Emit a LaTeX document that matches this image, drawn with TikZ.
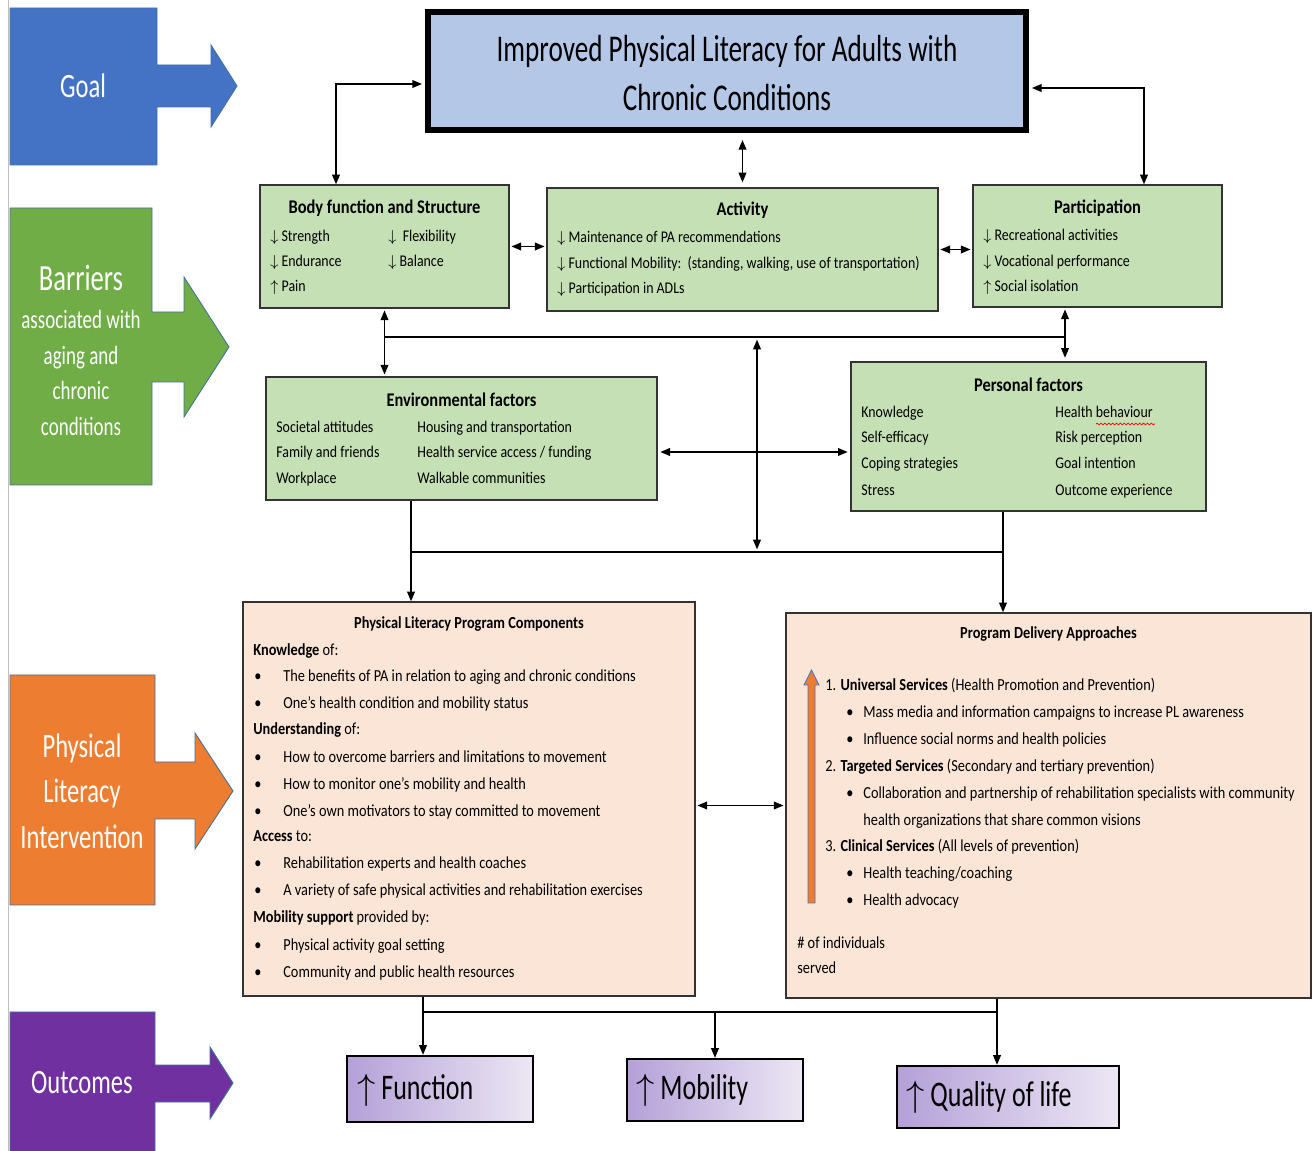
\documentclass[tikz,border=0pt]{standalone}
\usepackage{fontspec}
\setmainfont{Carlito}[FakeStretch=0.85]
\newfontfamily\condfont{Carlito}[FakeStretch=0.72]
\usetikzlibrary{fit,arrows.meta,positioning,decorations.pathmorphing}

\definecolor{goalblue}{HTML}{4472C4}
\definecolor{barrgreen}{HTML}{70AD47}
\definecolor{interorange}{HTML}{ED7D31}
\definecolor{outpurple}{HTML}{7030A0}
\definecolor{sideedge}{HTML}{41719C}
\definecolor{titlefill}{HTML}{B4C7E7}
\definecolor{icffill}{HTML}{C5E0B4}
\definecolor{progfill}{HTML}{FBE5D6}
\definecolor{gradleft}{HTML}{B4A0D8}
\definecolor{gradright}{HTML}{ECE7F4}

\newcommand{\icfhead}{\fontsize{11}{13}\selectfont\bfseries}
\newcommand{\icftext}{\fontsize{9.3}{11}\selectfont}
\newcommand{\proghead}{\fontsize{9.6}{11.5}\selectfont\bfseries}
\newcommand{\progtext}{\fontsize{9.6}{11.5}\selectfont}
\newcommand{\sidelabel}{\condfont\fontsize{19.4}{26}\selectfont}
\newcommand{\outlabel}{\condfont\fontsize{20.5}{24}\selectfont}

\begin{document}
\begin{tikzpicture}[x=0.02cm, y=-0.02cm,
  sidearrow/.style={fill=#1, draw=sideedge, line width=0.5pt},
  sidetext/.style={text=white, font=\sidelabel, align=center, inner sep=0pt},
  titlebox/.style={draw=black, line width=3.4pt, fill=titlefill, inner sep=0pt},
  icfbox/.style={draw=black!80, line width=0.8pt, fill=icffill, inner sep=0pt},
  progbox/.style={draw=black!80, line width=0.8pt, fill=progfill, inner sep=0pt},
  outbox/.style={draw=black, line width=1.3pt, left color=gradleft, right color=gradright, inner sep=0pt},
  boxhead/.style={font=\icfhead, inner sep=0pt},
  entry/.style={anchor=west, font=\icftext, inner sep=0pt, text height=1.6ex, text depth=0.45ex},
  pentry/.style={anchor=west, font=\progtext, inner sep=0pt, text height=1.6ex, text depth=0.45ex},
  outtext/.style={anchor=west, font=\outlabel, inner sep=0pt},
  link/.style={line width=0.8pt, -{Triangle[length=5.5pt,width=4.4pt]}},
  dlink/.style={line width=0.8pt, {Triangle[length=5.5pt,width=4.4pt]}-{Triangle[length=5.5pt,width=4.4pt]}},
  bus/.style={line width=1.2pt},
]
\fill[white] (0,0) rectangle (1316,1151);
\useasboundingbox (0,0) rectangle (1316,1151);
\draw[black!25, line width=0.6pt] (8.5,0) -- (8.5,1151); % slide edge

% left-hand block arrows
\draw[sidearrow=goalblue] (10,8) -- (157,8) -- (157,65) -- (211,65) -- (211,45) -- (237,86) -- (211,127) -- (211,107) -- (157,107) -- (157,165) -- (10,165) -- cycle;
\draw[sidearrow=barrgreen] (10,208) -- (152,208) -- (152,312) -- (184,312) -- (184,277) -- (229,347) -- (184,417) -- (184,382) -- (152,382) -- (152,485) -- (10,485) -- cycle;
\draw[sidearrow=interorange] (10,675) -- (155,675) -- (155,762) -- (195,762) -- (195,733) -- (233,791) -- (195,849) -- (195,819) -- (155,819) -- (155,905) -- (10,905) -- cycle;
\draw[sidearrow=outpurple] (10,1012) -- (155,1012) -- (155,1065) -- (210,1065) -- (210,1047) -- (233,1083) -- (210,1119) -- (210,1102) -- (155,1102) -- (155,1160) -- (10,1160) -- cycle;
\node[sidetext] (goal) at (83,86) {Goal};
\node[sidetext, font=\condfont\fontsize{21}{26}\selectfont] (barr) at (81,278) {Barriers};
\node[sidetext, font=\condfont\fontsize{15}{20.2}\selectfont] (barrsub) at (81,373) {associated with\\aging and\\chronic\\conditions};
\node[sidetext] (inter) at (82,791) {Physical\\Literacy\\Intervention};
\node[sidetext] (outc) at (82,1083) {Outcomes};

% goal
\node[titlebox, fit={(428,12) (1026,130)}] (title) {};
\node[font=\condfont\fontsize{21.5}{28.4}\selectfont, align=center] (titletext) at (727,73) {Improved Physical Literacy for Adults with\\Chronic Conditions};

% ICF components
\node[icfbox, fit={(260,185) (509,308)}] (body) {};
\node[boxhead] (bodyhead) at (384.5,208) {Body function and Structure};
\node[entry] (b1) at (270,237) {$\downarrow$ Strength};
\node[entry] (b2) at (388,237) {$\downarrow$\ \ Flexibility};
\node[entry] (b3) at (270,262) {$\downarrow$ Endurance};
\node[entry] (b4) at (388,262) {$\downarrow$ Balance};
\node[entry] (b5) at (270,287) {$\uparrow$ Pain};

\node[icfbox, fit={(547,188) (938,311)}] (act) {};
\node[boxhead] (acthead) at (742.5,210) {Activity};
\node[entry] (a1) at (557,238) {$\downarrow$ Maintenance of PA recommendations};
\node[entry] (a2) at (557,264) {$\downarrow$ Functional Mobility:\ \ (standing, walking, use of transportation)};
\node[entry] (a3) at (557,289) {$\downarrow$ Participation in ADLs};

\node[icfbox, fit={(973,185) (1222,307)}] (part) {};
\node[boxhead] (parthead) at (1097.5,208) {Participation};
\node[entry] (p1) at (983,236) {$\downarrow$ Recreational activities};
\node[entry] (p2) at (983,262) {$\downarrow$ Vocational performance};
\node[entry] (p3) at (983,287) {$\uparrow$ Social isolation};

% contextual factors
\node[icfbox, fit={(266,377) (657,500)}] (env) {};
\node[boxhead] (envhead) at (461.5,400) {Environmental factors};
\foreach \ty/\lt/\rt in {428/Societal attitudes/Housing and transportation,
                         453/Family and friends/{Health service access / funding},
                         479/Workplace/Walkable communities}{
  \node[entry] (el\ty) at (276,\ty) {\lt};
  \node[entry] (er\ty) at (417,\ty) {\rt};
}

\node[icfbox, fit={(851,362) (1206,511)}] (pers) {};
\node[boxhead] (pershead) at (1028.5,385) {Personal factors};
\foreach \ty/\lt/\rt in {413/Knowledge/Health behaviour, 438/Self-efficacy/Risk perception,
                         464/Coping strategies/Goal intention, 491/Stress/Outcome experience}{
  \node[entry] (pl\ty) at (861,\ty) {\lt};
  \node[entry] (pr\ty) at (1055,\ty) {\rt};
}
\draw[red, line width=0.4pt, decorate, decoration={snake, amplitude=0.5pt, segment length=2.2pt}] (1096,424) -- (1155,424); % spell-check mark

% intervention
\node[progbox, fit={(243,602) (695,996)}] (plc) {};
\node[font=\proghead, inner sep=0pt] (plchead) at (469,624) {Physical Literacy Program Components};
\foreach \ty/\tx in {651/\textbf{Knowledge} of:, 730/\textbf{Understanding} of:,
                     837/\textbf{Access} to:, 918/\textbf{Mobility support} provided by:}
  \node[pentry] (plcs\ty) at (253,\ty) {\tx};
\foreach \ty/\tx in {677/The benefits of PA in relation to aging and chronic conditions,
                     704/One’s health condition and mobility status,
                     758/How to overcome barriers and limitations to movement,
                     785/How to monitor one’s mobility and health,
                     812/One’s own motivators to stay committed to movement,
                     864/Rehabilitation experts and health coaches,
                     891/A variety of safe physical activities and rehabilitation exercises,
                     946/Physical activity goal setting,
                     973/Community and public health resources}{
  \node[pentry] (plcb\ty) at (254,\ty) {•};
  \node[pentry] (plct\ty) at (283,\ty) {\tx};
}

\node[progbox, fit={(786,613) (1311,998)}] (pda) {};
\node[font=\proghead, inner sep=0pt] (pdahead) at (1048.5,634) {Program Delivery Approaches};
\node[pentry] (pda1) at (825,686) {1. \textbf{Universal Services} (Health Promotion and Prevention)};
\node[pentry] (pda2) at (825,767) {2. \textbf{Targeted Services} (Secondary and tertiary prevention)};
\node[pentry] (pda3) at (825,847) {3. \textbf{Clinical Services} (All levels of prevention)};
\foreach \ty/\tx in {713/Mass media and information campaigns to increase PL awareness,
                     740/Influence social norms and health policies,
                     794/Collaboration and partnership of rehabilitation specialists with community,
                     874/{Health teaching/coaching},
                     901/Health advocacy}{
  \node[pentry] (pdab\ty) at (846,\ty) {•};
  \node[pentry] (pdat\ty) at (863,\ty) {\tx};
}
\node[pentry] (pdat821) at (863,821) {health organizations that share common visions};
\node[pentry] (served1) at (797,944) {\# of individuals};
\node[pentry] (served2) at (797,969) {served};
\draw[fill=interorange, draw=goalblue, line width=0.4pt] (808,903) -- (808,685) -- (804,685) -- (811.5,670) -- (819,685) -- (815,685) -- (815,903) -- cycle; % reach arrow

% outcomes
\node[outbox, fit={(347,1056) (533,1122)}] (fun) {};
\node[outtext] (funtext) at (357,1090) {$\uparrow$ Function};
\node[outbox, fit={(627,1059) (803,1121)}] (mob) {};
\node[outtext] (mobtext) at (636,1090) {$\uparrow$ Mobility};
\node[outbox, fit={(897,1066) (1119,1128)}] (qol) {};
\node[outtext] (qoltext) at (906,1097) {$\uparrow$ Quality of life};

% connectors
\draw[dlink, shorten <=1.7pt] ([yshift=-0.26cm]title.west) -| ([xshift=-0.97cm]body.north);
\draw[dlink, shorten <=4pt, shorten >=2.8pt] (act.north |- title.south) -- (act.north);
\draw[dlink, shorten <=1.7pt] ([yshift=-0.34cm]title.east) -| ([xshift=0.93cm]part.north);
\draw[dlink, shorten <=1pt, shorten >=1pt] (body.east) -- (body.east -| act.west);
\draw[dlink, shorten <=1pt, shorten >=1pt] (act.east) -- (act.east -| part.west);
\draw[dlink, shorten <=1pt, shorten >=1pt] (body.south) -- (body.south |- env.north);
\coordinate (partdown) at ([xshift=-0.65cm]part.south);
\draw[dlink, shorten <=1pt, shorten >=2pt] (partdown) -- (partdown |- pers.north);
\coordinate (topbus) at (757,337);
\coordinate (lowbus) at (757,552);
\draw[bus] (body.south |- topbus) -- (partdown |- topbus);
\draw[dlink, shorten <=1.5pt, shorten >=1.5pt] (topbus) -- (lowbus);
\coordinate (envside) at ([yshift=-0.27cm]env.east);
\draw[dlink, shorten <=1.5pt, shorten >=1.5pt] (envside) -- (envside -| pers.west);
\coordinate (envdown) at ([xshift=-1.01cm]env.south);
\coordinate (persdown) at ([xshift=-0.51cm]pers.south);
\draw[link] (envdown) -- (envdown |- plc.north);
\draw[link] (persdown) -- (persdown |- pda.north);
\draw[bus] (envdown |- lowbus) -- (persdown |- lowbus);
\draw[dlink, shorten <=1pt, shorten >=1pt] (pda.west -| plc.east) -- (pda.west);
\coordinate (plcdown) at ([xshift=-0.92cm]plc.south);
\coordinate (pdadown) at ([xshift=-1.03cm]pda.south);
\coordinate (outbus) at (709,1012);
\draw[link] (plcdown) -- (plcdown |- fun.north);
\draw[link] (pdadown) -- (pdadown |- qol.north);
\draw[bus] (plcdown |- outbus) -- (pdadown |- outbus);
\draw[link] (mob.north |- outbus) -- (mob.north);
\end{tikzpicture}
\end{document}
